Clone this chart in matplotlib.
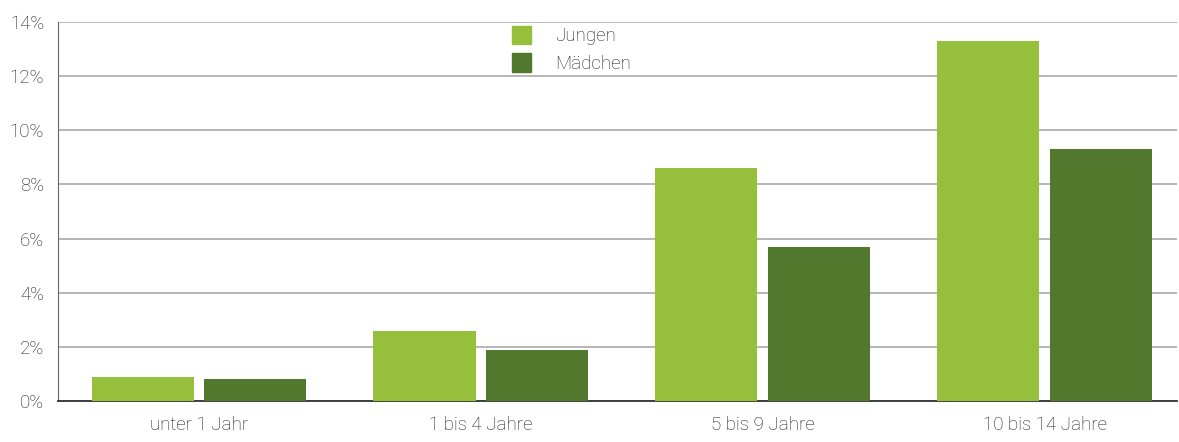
import matplotlib.pyplot as plt
import numpy as np
from matplotlib.patches import Patch

plt.rcParams["font.family"] = ["Roboto", "DejaVu Sans"]

categories = ["unter 1 Jahr", "1 bis 4 Jahre", "5 bis 9 Jahre", "10 bis 14 Jahre"]
jungen = [0.9, 2.6, 8.6, 13.3]
maedchen = [0.8, 1.9, 5.7, 9.3]
y_ticks = [0, 2, 4, 6, 8, 10, 12, 14]

c_jungen = "#96bf3c"
c_maedchen = "#52782e"
txt = "#1e1e1e"

fig = plt.figure(figsize=(11.79, 4.42), dpi=100)
ax = fig.add_axes([0.0492, 0.0928, 0.9488, 0.8575])

x = np.arange(len(categories))
w = 0.362
ax.bar(x - 0.2, jungen, w, color=c_jungen, zorder=3)
ax.bar(x + 0.2, maedchen, w, color=c_maedchen, zorder=3)

ax.set_xlim(-0.5, 3.468)
ax.set_ylim(0, 14)
ax.set_yticks(y_ticks)
ax.set_yticklabels([f"{v}%" for v in y_ticks])
ax.set_xticks(x)
ax.set_xticklabels(categories)
ax.tick_params(axis="both", length=0, labelsize=13.5, colors=txt)
ax.tick_params(axis="x", pad=11)
ax.tick_params(axis="y", pad=10)
for t in ax.get_xticklabels() + ax.get_yticklabels():
    t.set_fontweight("light")

ax.yaxis.grid(True, color="#aaaaaa", lw=1.2, zorder=0)
ax.set_axisbelow(True)
for s in ["top", "right"]:
    ax.spines[s].set_visible(False)
ax.spines["left"].set_color("#666666")
ax.spines["bottom"].set_color("#333333")
ax.spines["bottom"].set_linewidth(1.3)

handles = [Patch(color=c_jungen, label="Jungen"), Patch(color=c_maedchen, label="Mädchen")]
leg = ax.legend(handles=handles, loc="upper left", bbox_to_anchor=(0.4057, 0.99),
                frameon=False, handlelength=1.0, handleheight=1.15, handletextpad=1.3,
                labelspacing=0.42, borderpad=0, borderaxespad=0,
                prop={"size": 13.5, "weight": "light"})
for t in leg.get_texts():
    t.set_color(txt)

fig.savefig("out.png", dpi=100)
